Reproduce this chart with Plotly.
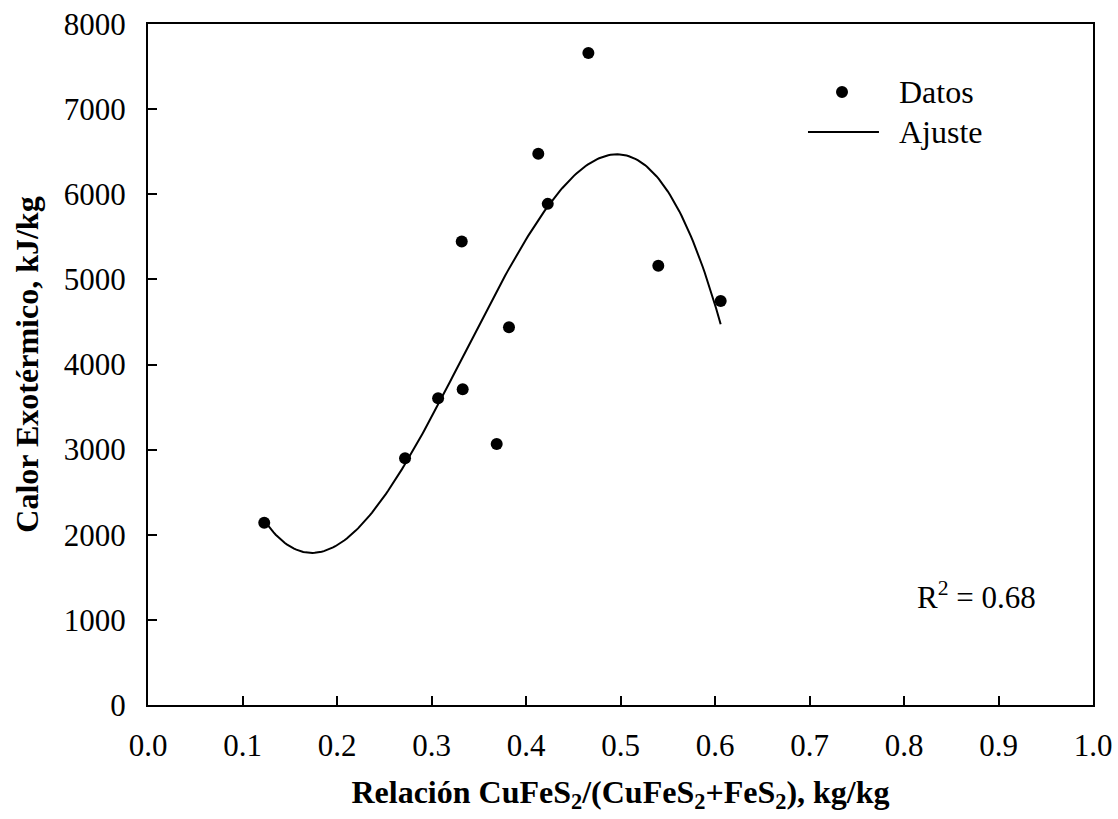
import numpy as np
import plotly.graph_objects as go

# Data
relacion = [0.123, 0.272, 0.307, 0.332, 0.333, 0.369, 0.382, 0.413, 0.423, 0.466, 0.540, 0.606]
calor = [2142, 2899, 3604, 5444, 3710, 3067, 4438, 6475, 5887, 7658, 5159, 4747]

x_ticks = [0.0, 0.1, 0.2, 0.3, 0.4, 0.5, 0.6, 0.7, 0.8, 0.9, 1.0]
y_ticks = [0, 1000, 2000, 3000, 4000, 5000, 6000, 7000, 8000]

# cubic least-squares fit ("Ajuste") of the data
coef = np.polyfit(relacion, calor, 3)
xf = np.linspace(min(relacion), max(relacion), 200)
yf = np.polyval(coef, xf)

FONT = "Liberation Serif, Times New Roman, serif"

fig = go.Figure()
fig.add_trace(go.Scatter(x=relacion, y=calor, mode="markers", name="Datos",
                         marker=dict(color="black", size=12), showlegend=False))
fig.add_trace(go.Scatter(x=xf, y=yf, mode="lines", name="Ajuste",
                         line=dict(color="black", width=2), showlegend=False))

# manual legend (Datos / Ajuste)
fig.add_shape(type="circle", xref="paper", yref="paper", xsizemode="pixel", ysizemode="pixel",
              xanchor=0.7344, yanchor=0.900, x0=-6, x1=6, y0=-6, y1=6,
              fillcolor="black", line=dict(color="black", width=0))
fig.add_shape(type="line", xref="paper", yref="paper", x0=0.6984, x1=0.7735, y0=0.8414, y1=0.8414,
              line=dict(color="black", width=2))
fig.add_annotation(xref="paper", yref="paper", x=0.7926, y=0.900, text="Datos", showarrow=False,
                   xanchor="left", yanchor="middle", font=dict(family=FONT, size=32, color="black"))
fig.add_annotation(xref="paper", yref="paper", x=0.7926, y=0.8414, text="Ajuste", showarrow=False,
                   xanchor="left", yanchor="middle", font=dict(family=FONT, size=32, color="black"))

fig.add_annotation(xref="x", yref="y", x=0.877, y=1292, text="R<sup>2</sup> = 0.68", showarrow=False,
                   xanchor="center", yanchor="middle", font=dict(family=FONT, size=31, color="black"))

axis_common = dict(showgrid=False, zeroline=False, showline=True, linecolor="black", linewidth=2,
                   mirror=True, ticks="inside", ticklen=9, tickwidth=2, tickcolor="black",
                   tickfont=dict(family=FONT, size=31, color="black"))

fig.update_xaxes(range=[0, 1], tickvals=x_ticks, ticktext=[f"{v:.1f}" for v in x_ticks],
                 ticklabelstandoff=12,
                 title=dict(text="<b>Relación CuFeS<sub>2</sub>/(CuFeS<sub>2</sub>+FeS<sub>2</sub>), kg/kg</b>",
                            font=dict(family=FONT, size=32, color="black"), standoff=18),
                 **axis_common)
fig.update_yaxes(range=[0, 8000], tickvals=y_ticks, ticktext=[str(v) for v in y_ticks],
                 ticklabelstandoff=14,
                 title=dict(text="<b>Calor Exotérmico, kJ/kg</b>",
                            font=dict(family=FONT, size=32, color="black"), standoff=16),
                 **axis_common)

fig.update_layout(width=1118, height=819, margin=dict(l=148, r=25, t=24, b=114, autoexpand=False),
                  plot_bgcolor="white", paper_bgcolor="white", showlegend=False)

fig.write_html("out.html")
